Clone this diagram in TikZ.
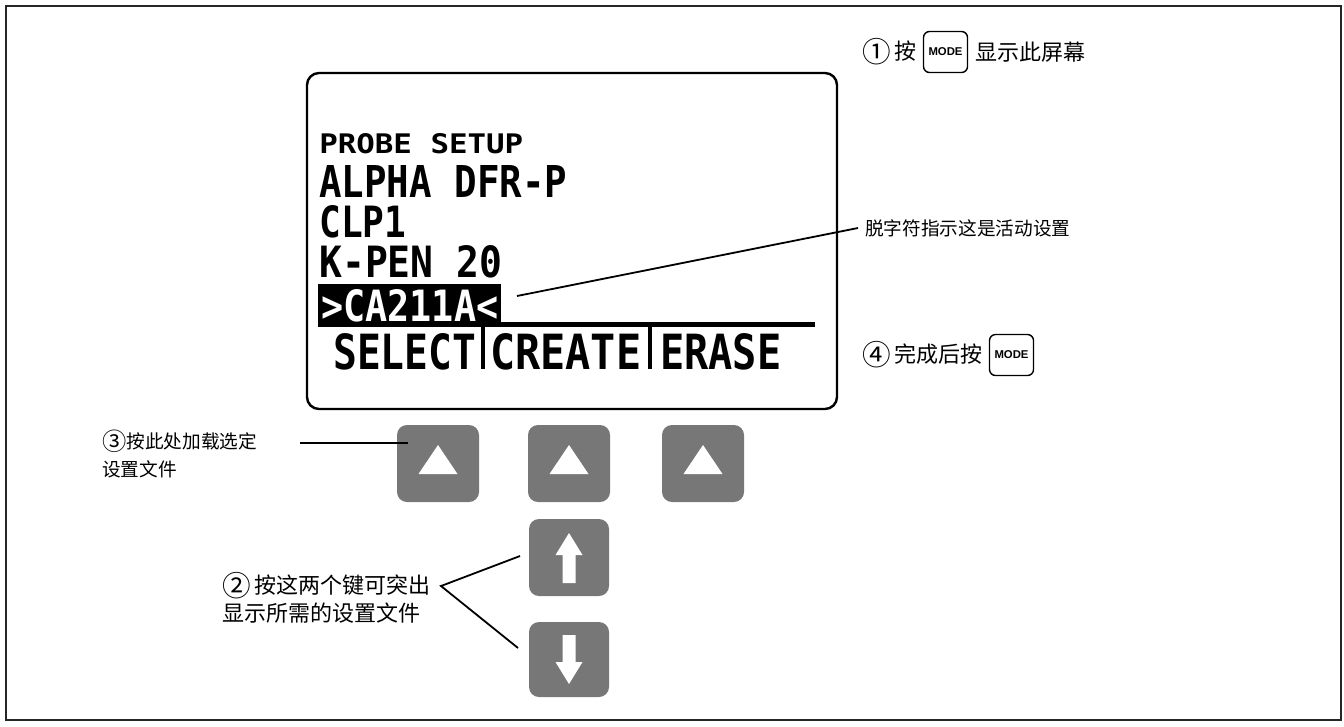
\documentclass[tikz,border=0pt]{standalone}
\usepackage{fontspec}
\usepackage{graphicx}
\usepackage{xcolor}
\usepackage{tikz}
\usetikzlibrary{positioning}
\setmainfont{Liberation Sans}
\newfontfamily\cjk{Noto Sans CJK SC}
\newfontfamily\lcdfont{DejaVu Sans Mono}
\newlength\pxu
\setlength\pxu{0.75pt}
\newcommand{\lcdtxt}[3]{\resizebox{#1\pxu}{#2\pxu}{\lcdfont\bfseries #3}}
\newcommand{\stepnum}[1]{\raisebox{-0.14em}{\scalebox{1.3}{#1}}}
\definecolor{keygray}{HTML}{777777}

\begin{document}
\begin{tikzpicture}[
    x=\pxu, y=-\pxu,
    softkey/.style={fill=keygray, rounded corners=10\pxu, minimum width=82\pxu, minimum height=77\pxu, inner sep=0},
    modekey/.style={draw, line width=1.4\pxu, rounded corners=6\pxu, minimum width=44\pxu, minimum height=41\pxu, inner sep=0, font=\fontsize{8.5}{9}\selectfont\bfseries},
    note/.style={font=\cjk\fontsize{14}{21}\selectfont, inner sep=0, align=left},
    bignote/.style={font=\cjk\fontsize{16.5}{21}\selectfont, inner sep=0, align=left},
    lcdline/.style={anchor=north west, inner sep=0},
    callout/.style={line width=1.8\pxu},
]
\useasboundingbox (0,0) rectangle (1344,726);
\draw[line width=2.4\pxu, black!85] (6,6) rectangle (1341,720);

% Display
\draw[line width=2.4\pxu, rounded corners=12\pxu] (307,73) rectangle (837,409);
\node[lcdline] (lcd0) at (319,133) {\lcdtxt{204}{20}{PROBE SETUP}};
\node[lcdline] (lcd1) at (319,165) {\lcdtxt{248}{32}{ALPHA DFR-P}};
\node[lcdline] (lcd2) at (319,205) {\lcdtxt{87}{32}{CLP1}};
\node[lcdline] (lcd3) at (319,245) {\lcdtxt{183}{32}{K-PEN 20}};
\fill (318,284) rectangle (501,327);
\fill (501,322) rectangle (815,327);
\node[lcdline, text=white] (lcd4) at (321,289) {\lcdtxt{177}{32}{>CA211A<}};
\node[lcdline] (sel) at (333,333) {\lcdtxt{143}{36}{SELECT}};
\node[lcdline] (cre) at (490,333) {\lcdtxt{151}{36}{CREATE}};
\node[lcdline] (era) at (660,333) {\lcdtxt{121}{36}{ERASE}};
\fill (481,327) rectangle (485,369);
\fill (648,327) rectangle (652,369);

% Soft keys
\foreach \nm/\cx in {b1/438, b2/569, b3/703} {
    \node[softkey] (\nm) at (\cx,463.5) {};
    \fill[white] (\cx-19.5,474) -- (\cx+19.5,474) -- (\cx,445) -- cycle;
}
\node[softkey, minimum width=80\pxu] (up) at (569,557.5) {};
\node[softkey, minimum width=80\pxu, minimum height=75\pxu] (dn) at (569,659.5) {};
\fill[white] (569,533) -- (582.5,555) -- (575.5,555) -- (575.5,583) -- (562.5,583) -- (562.5,555) -- (555.5,555) -- cycle;
\fill[white] (569,684) -- (582.5,662) -- (575.5,662) -- (575.5,635) -- (562.5,635) -- (562.5,662) -- (555.5,662) -- cycle;

% Step 1
\node[bignote, anchor=west] (s1a) at (862,52) {\stepnum{①}\,按};
\node[modekey, right=6\pxu of s1a] (mode1) {MODE};
\node[bignote, right=7\pxu of mode1] (s1b) {显示此屏幕};

% Step 4
\node[bignote, anchor=west] (s4a) at (862,355) {\stepnum{④}\,完成后按};
\node[modekey, right=6\pxu of s4a] (mode4) {MODE};

% Caret note
\node[note, anchor=west] (caret) at (865,228) {脱字符指示这是活动设置};
\coordinate (caretpt) at (517,296);
\draw[callout] (caretpt) -- ([xshift=-7\pxu]caret.west);

% Step 3
\node[note, anchor=north west] (s3) at (102,430) {\stepnum{③}按此处加载选定\\设置文件};
\coordinate (s3a) at (300,443);
\coordinate (s3b) at (408,443);
\draw[callout] (s3a) -- (s3b);

% Step 2
\node[bignote, anchor=north west] (s2) at (222,572) {\stepnum{②}\,按这两个键可突出\\显示所需的设置文件};
\coordinate (s2tip) at (441,586);
\coordinate (s2up) at (520,556);
\coordinate (s2dn) at (518,648);
\draw[callout] (s2up) -- (s2tip) -- (s2dn);
\end{tikzpicture}
\end{document}
